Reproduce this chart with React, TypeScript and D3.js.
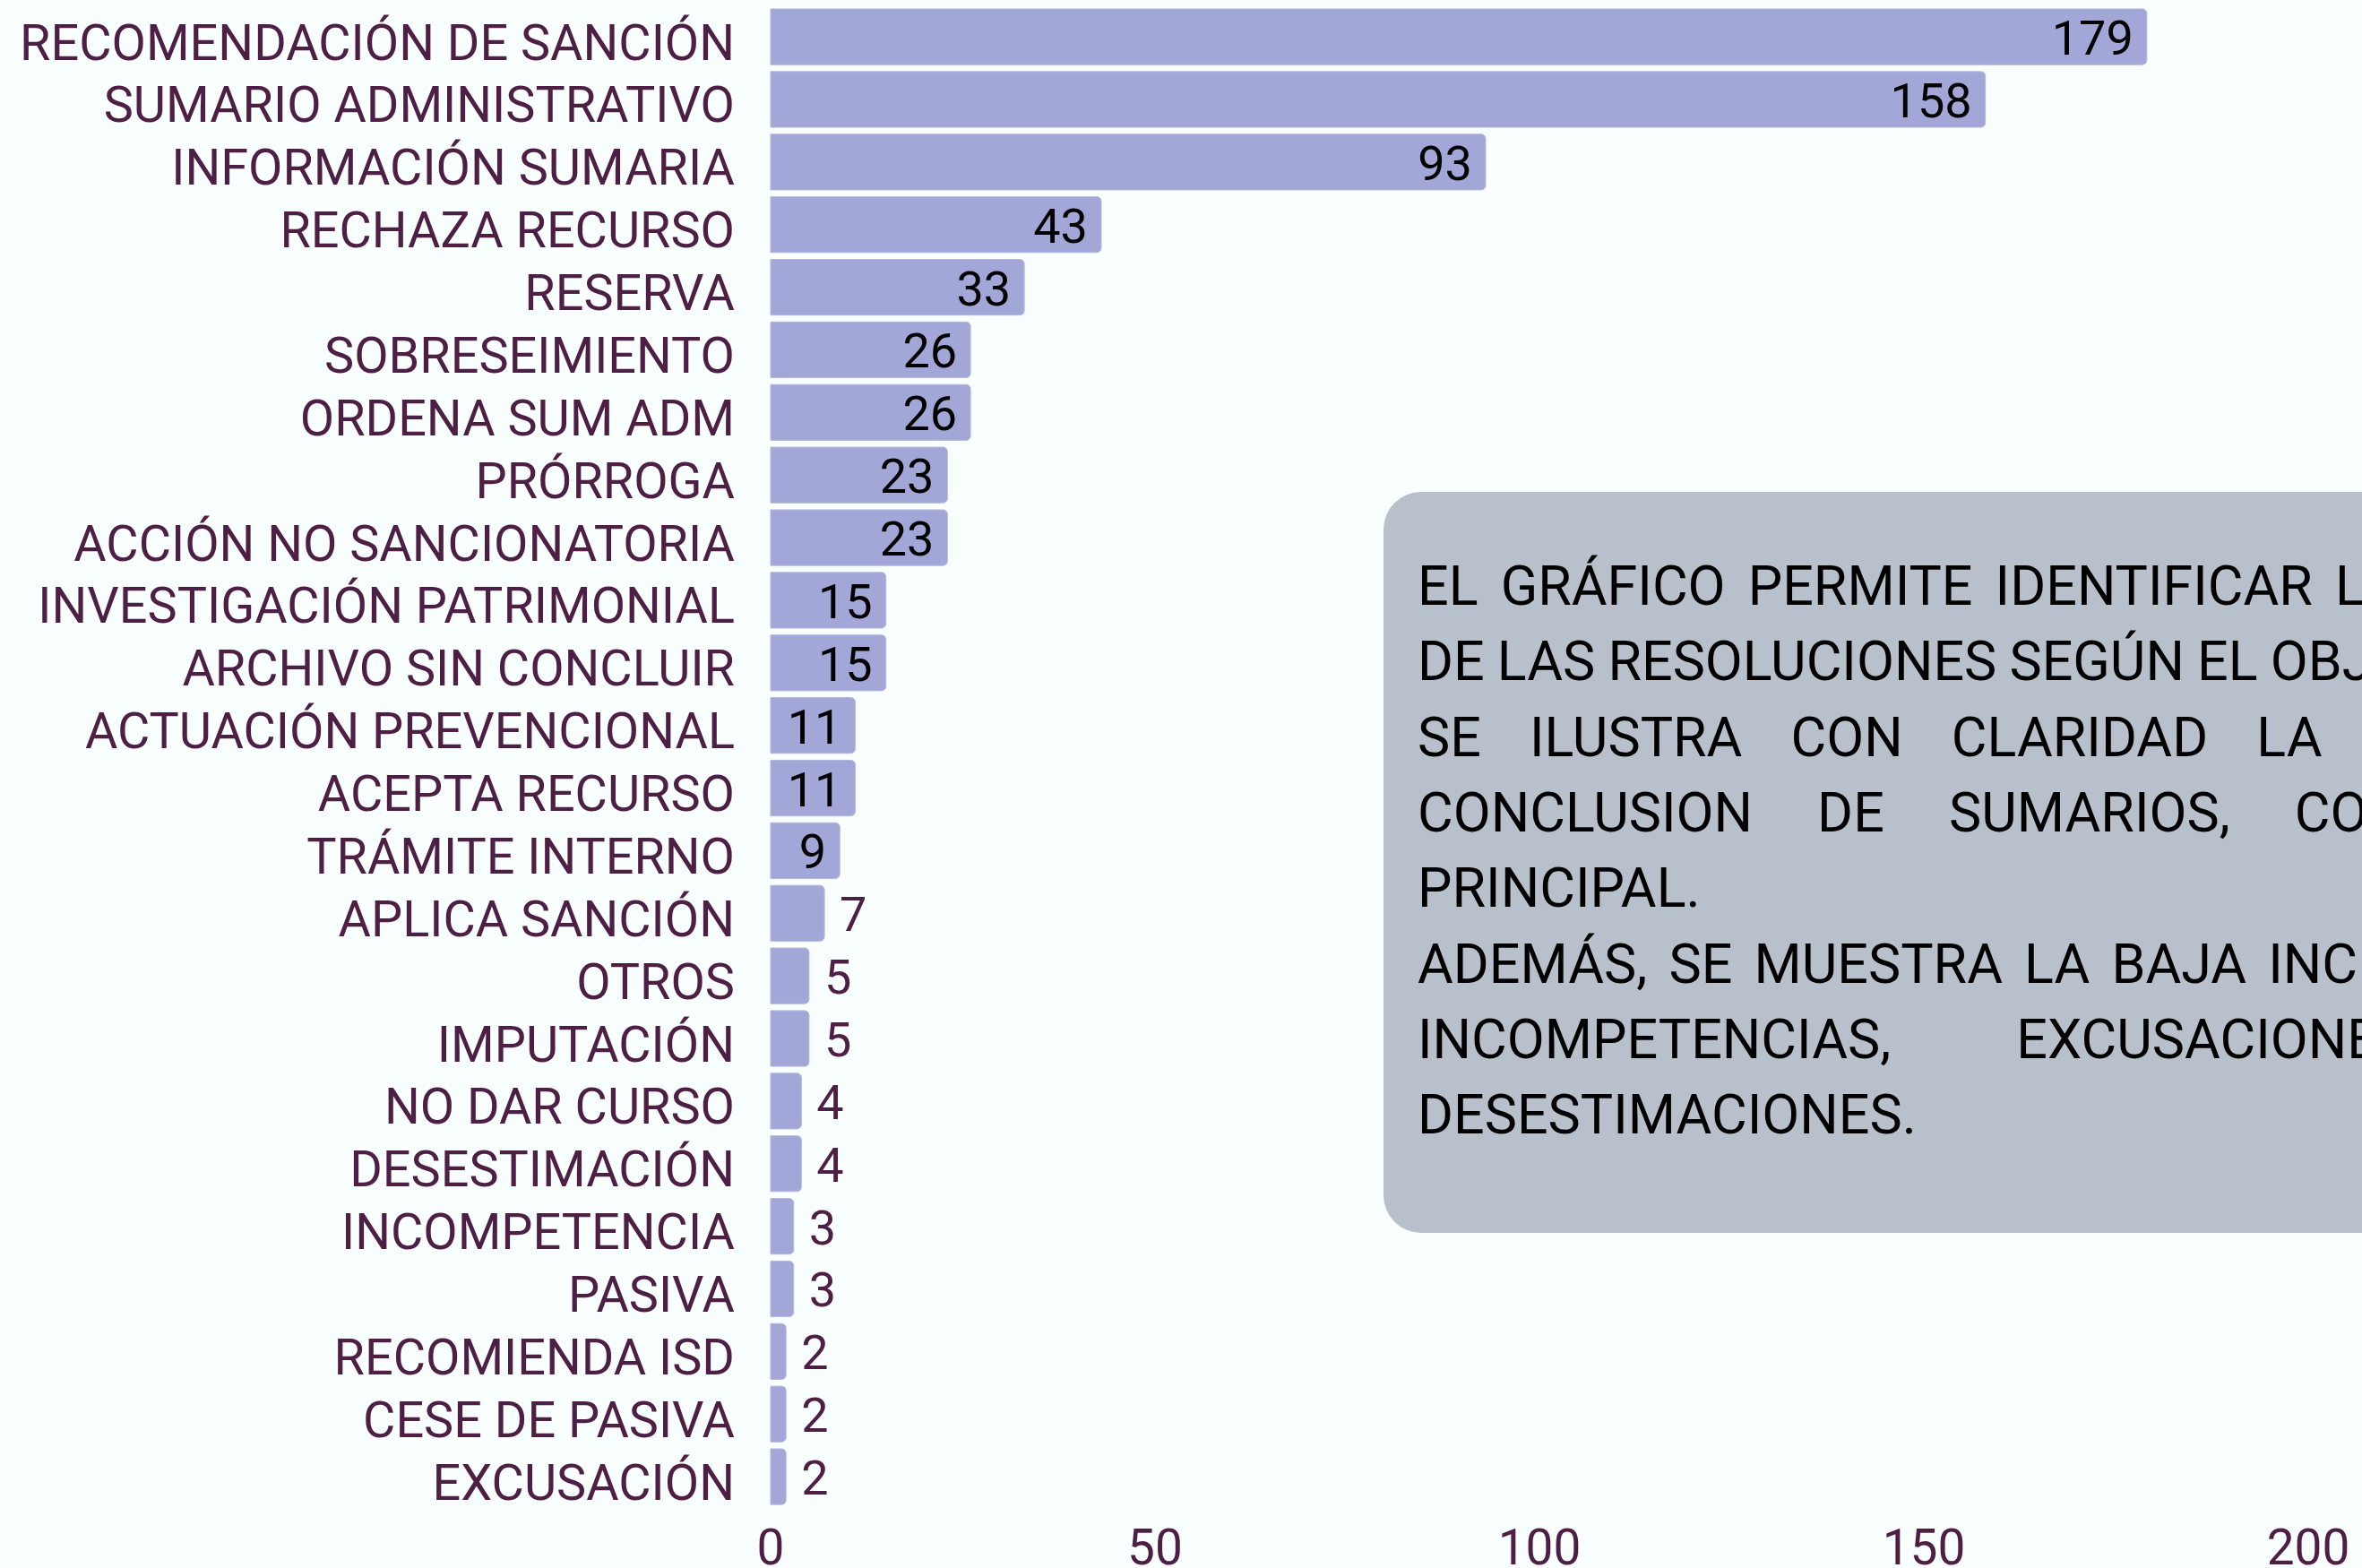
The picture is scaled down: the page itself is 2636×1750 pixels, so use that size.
import React, { useEffect } from 'react';
import * as d3 from 'd3';

const categories = [
  'RECOMENDACIÓN DE SANCIÓN', 'SUMARIO ADMINISTRATIVO', 'INFORMACIÓN SUMARIA', 'RECHAZA RECURSO',
  'RESERVA', 'SOBRESEIMIENTO', 'ORDENA SUM ADM', 'PRÓRROGA', 'ACCIÓN NO SANCIONATORIA',
  'INVESTIGACIÓN PATRIMONIAL', 'ARCHIVO SIN CONCLUIR', 'ACTUACIÓN PREVENCIONAL', 'ACEPTA RECURSO',
  'TRÁMITE INTERNO', 'APLICA SANCIÓN', 'OTROS', 'IMPUTACIÓN', 'NO DAR CURSO', 'DESESTIMACIÓN',
  'INCOMPETENCIA', 'PASIVA', 'RECOMIENDA ISD', 'CESE DE PASIVA', 'EXCUSACIÓN',
];
const values = [179, 158, 93, 43, 33, 26, 26, 23, 23, 15, 15, 11, 11, 9, 7, 5, 5, 4, 4, 3, 3, 2, 2, 2];
const xTicks = [0, 50, 100, 150, 200];

// note lines, with the extra gap between words (justified text)
const noteLines = [
  'EL GRÁFICO PERMITE IDENTIFICAR LA DISTRIBUCIÓN',
  'DE LAS RESOLUCIONES SEGÚN EL OBJETO TRATADO.',
  'SE ILUSTRA CON CLARIDAD LA PREDOMINANCIA DE',
  'CONCLUSION DE SUMARIOS, COMO OBJETO',
  'PRINCIPAL.',
  'ADEMÁS, SE MUESTRA LA BAJA INCIDENCIA DE',
  'INCOMPETENCIAS, EXCUSACIONES Y',
  'DESESTIMACIONES.',
];
const noteWordGaps = [10, -1, 39, 57, 0, 9, 125, 0];

const W = 2636;
const H = 1750;
const FONT = 'Roboto, sans-serif';
const PURPLE = '#4e1f45';
const BAR = '#a3a7d7';

export default function App() {
  useEffect(() => {
    document.body.style.margin = '0';
    document.body.style.overflow = 'hidden';
  }, []);

  const x = d3.scaleLinear().domain([0, 200]).range([860, 2576]);
  const step = 69.87;
  const y = d3.scaleBand<string>()
    .domain(categories)
    .range([10 - step * 0.055, 10 - step * 0.055 + step * categories.length])
    .paddingInner(0.11)
    .paddingOuter(0.055);

  const bars = categories.map((c, i) => ({ c, v: values[i] }));
  const r = 5;

  const barPath = (x0: number, x1: number, y0: number, h: number) => {
    const p = d3.path();
    const rr = Math.min(r, (x1 - x0) / 2);
    p.moveTo(x0, y0);
    p.lineTo(x1 - rr, y0);
    p.arcTo(x1, y0, x1, y0 + rr, rr);
    p.lineTo(x1, y0 + h - rr);
    p.arcTo(x1, y0 + h, x1 - rr, y0 + h, rr);
    p.lineTo(x0, y0 + h);
    p.closePath();
    return p.toString();
  };

  return (
    <svg width={W} height={H} style={{ display: 'block', background: '#f9fefe' }} fontFamily={FONT}>
      <rect width={W} height={H} fill="#f9fefe" />
      <g>
        {bars.map(d => {
          const y0 = y(d.c)!;
          const h = y.bandwidth();
          const cy = y0 + h / 2;
          const inside = d.v >= 9;
          return (
            <g key={d.c}>
              <path d={barPath(x(0), x(d.v), y0, h)} fill={BAR} stroke="#b3b7e0" strokeWidth={1} />
              <text x={820} y={cy + 25.5} textAnchor="end" fontSize={55.8} fill={PURPLE}>{d.c}</text>
              <text
                x={inside ? x(d.v) - 15 : x(d.v) + 17}
                y={cy + 20}
                textAnchor={inside ? 'end' : 'start'}
                fontSize={54}
                fill={inside ? '#000' : PURPLE}
              >{d.v}</text>
            </g>
          );
        })}
      </g>
      <g>
        {xTicks.map(t => (
          <text key={t} x={x(t)} y={1746} textAnchor="middle" fontSize={55} fill={PURPLE}>{t}</text>
        ))}
      </g>
      <g>
        <rect x={1544} y={549} width={1300} height={827} rx={42} ry={42} fill="#b8c1cb" />
        {noteLines.map((line, i) => (
          <text
            key={i}
            x={1582}
            y={675 + i * 84.3}
            fontSize={61}
            fill="#000"
            style={{ wordSpacing: `${noteWordGaps[i]}px` }}
          >{line}</text>
        ))}
      </g>
    </svg>
  );
}
